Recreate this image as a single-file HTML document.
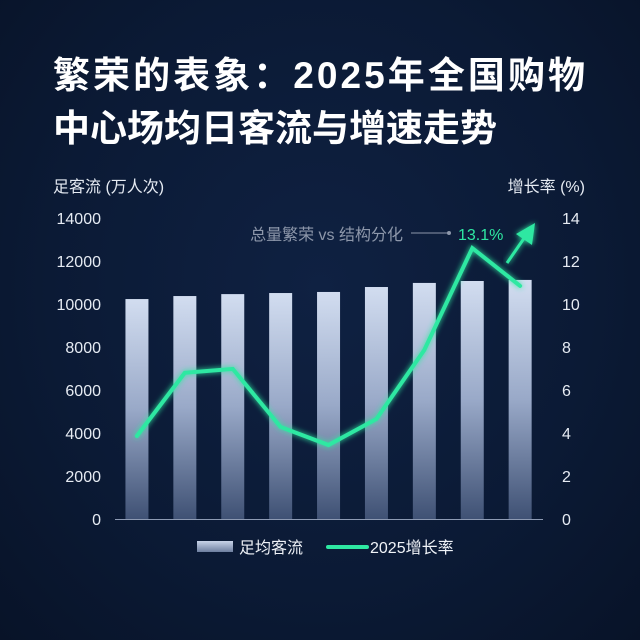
<!DOCTYPE html>
<html><head><meta charset="utf-8">
<style>
html,body{margin:0;padding:0;}
body{width:640px;height:640px;overflow:hidden;background:radial-gradient(ellipse at 50% 45%,#0f2142 0%,#0b1a35 60%,#081328 100%);font-family:"Liberation Sans","Noto Sans CJK SC",sans-serif;}
svg{position:absolute;left:0;top:0;}
</style></head>
<body>
<svg id="chart" width="640" height="640">
<defs>
<linearGradient id="barg" x1="0" y1="0" x2="0" y2="1">
<stop offset="0" stop-color="#d2ddf0"/><stop offset="0.5" stop-color="#99a9c8"/><stop offset="1" stop-color="#3f5174"/>
</linearGradient>
<linearGradient id="legg" x1="0" y1="0" x2="0" y2="1">
<stop offset="0" stop-color="#c8d3e8"/><stop offset="1" stop-color="#6d7e9f"/>
</linearGradient>
<filter id="glow" x="-20%" y="-20%" width="140%" height="140%"><feGaussianBlur stdDeviation="3" result="b"/><feMerge><feMergeNode in="b"/><feMergeNode in="SourceGraphic"/></feMerge></filter>
</defs>
<text x="53" y="88" fill="#fff" font-size="37" font-weight="bold" textLength="532" lengthAdjust="spacing">繁荣的表象：2025年全国购物</text>
<text x="53" y="141" fill="#fff" font-size="37" font-weight="bold">中心场均日客流与增速走势</text>
<text x="53" y="192" fill="#e6ebf3" font-size="16">足客流 (万人次)</text>
<text x="585" y="192" fill="#e6ebf3" font-size="16" text-anchor="end">增长率 (%)</text>
<g id="ticks"></g>
<line x1="115" y1="519.5" x2="543" y2="519.5" stroke="#8d9ab3" stroke-width="1"/>
<g id="bars"></g>
<g id="line"></g>
<text x="403" y="240" fill="#8d97aa" font-size="16" text-anchor="end">总量繁荣 vs 结构分化</text>
<line x1="411" y1="233" x2="448" y2="233" stroke="#8d97aa" stroke-width="1"/>
<circle cx="449" cy="233" r="2" fill="#8d97aa"/>
<text x="458" y="240" fill="#2ee8a2" font-size="16">13.1%</text>
<g>
<rect x="197" y="541" width="36" height="11" fill="url(#legg)"/>
<text x="239" y="553" fill="#f0f3f8" font-size="16">足均客流</text>
<line x1="328" y1="547" x2="367" y2="547" stroke="#2ee8a2" stroke-width="4" stroke-linecap="round"/>
<text x="370" y="553" fill="#f0f3f8" font-size="16">2025增长率</text>
</g>
</svg>
<script>
const categories=["1","2","3","4","5","6","7","8","9"];
const traffic=[10230,10370,10460,10510,10560,10790,10980,11070,11120];
const growth=[3.86,6.8,6.98,4.28,3.44,4.65,7.86,12.6,10.84];
const leftTicks=[0,2000,4000,6000,8000,10000,12000,14000];
const rightTicks=[0,2,4,6,8,10,12,14];
const NS="http://www.w3.org/2000/svg";
const y0=519,y1=218,x0=113,band=47.9;
function yL(v){return y0-(v/14000)*(y0-y1);}
function yR(v){return y0-(v/14)*(y0-y1);}
function xC(i){return x0+band*(i+0.5);}
function mk(t,a){const e=document.createElementNS(NS,t);for(const k in a)e.setAttribute(k,a[k]);return e;}
const tg=document.getElementById('ticks');
leftTicks.forEach((v,i)=>{const t=mk('text',{x:101,y:yL(v)+6,fill:'#e6ebf3','font-size':16,'text-anchor':'end'});t.textContent=v;


tg.appendChild(t);});
rightTicks.forEach((v,i)=>{const t=mk('text',{x:562,y:yR(v)+6,fill:'#e6ebf3','font-size':16});t.textContent=v;


tg.appendChild(t);});
const bg=document.getElementById('bars');
traffic.forEach((v,i)=>{const r=mk('rect',{x:xC(i)-11.5,y:yL(v),width:23,height:y0-yL(v),fill:'url(#barg)'});


bg.appendChild(r);});
const lg=document.getElementById('line');
const pts=growth.map((v,i)=>xC(i).toFixed(1)+','+yR(v).toFixed(1)).join(' ');
const pl=mk('polyline',{points:pts,fill:'none',stroke:'#2ee8a2','stroke-width':4,'stroke-linejoin':'miter','stroke-linecap':'round',filter:'url(#glow)'});


lg.appendChild(pl);
const ax=mk('line',{x1:507,y1:263,x2:527,y2:234,stroke:'#2ee8a2','stroke-width':3,filter:'url(#glow)'});


lg.appendChild(ax);
const ah=mk('polygon',{points:'535,223 532,245 516,234',fill:'#2ee8a2',filter:'url(#glow)'});


lg.appendChild(ah);
</script>
</body></html>
